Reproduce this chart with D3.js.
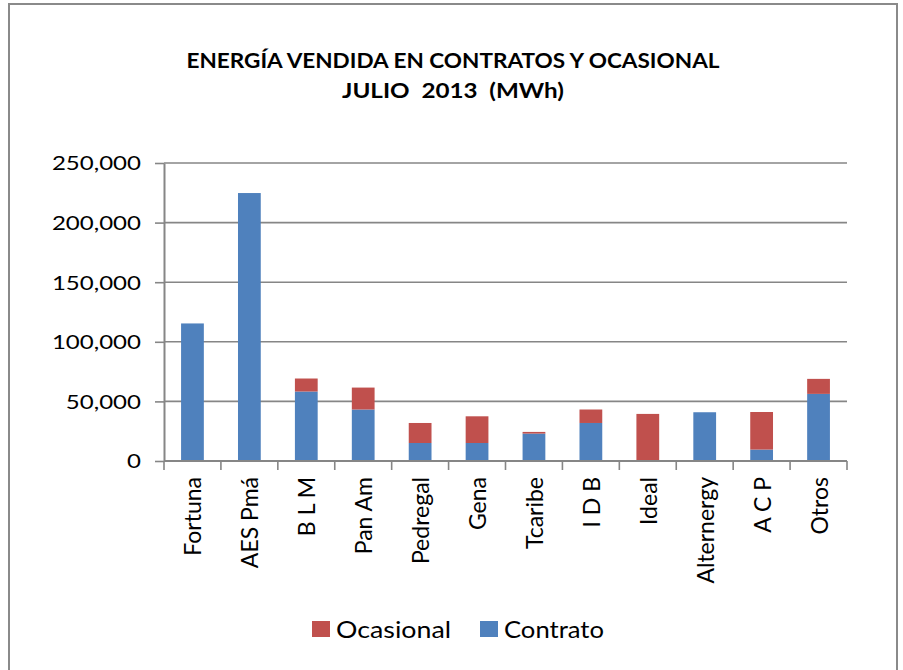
<!DOCTYPE html>
<html>
<head>
<meta charset="utf-8">
<script src="https://cdn.jsdelivr.net/npm/d3@7"></script>
<style>
  body { margin: 0; background: #fff; }
  text { font-family: Lato, "Open Sans", sans-serif; fill: #000; }
  text.title { white-space: pre; }
</style>
</head>
<body>
<div id="chart"></div>
<script>
const categories = ['Fortuna', 'AES Pmá', 'B L M', 'Pan Am', 'Pedregal', 'Gena', 'Tcaribe', 'I D B', 'Ideal', 'Alternergy', 'A C P', 'Otros'];
const contrato = [115400, 224800, 58300, 43200, 15100, 15100, 23000, 31900, 0, 40900, 9600, 56300];
const ocasional = [0, 0, 10900, 18400, 16800, 22400, 1400, 11300, 39500, 0, 31500, 12600];
const yTicks = [0, 50000, 100000, 150000, 200000, 250000];
const seriesNames = ['Contrato', 'Ocasional'];
const legendOrder = ['Ocasional', 'Contrato'];
const titleLines = ['ENERGÍA VENDIDA EN CONTRATOS Y OCASIONAL', 'JULIO  2013  (MWh)'];

const width = 903;
const height = 670;
const colors = { Contrato: '#4F81BD', Ocasional: '#C0504D' };
const gray = '#868686';

const svg = d3.select('#chart').append('svg').attr('width', width).attr('height', height);
svg.append('rect').attr('width', width).attr('height', height).attr('fill', '#fff');
svg.append('rect').attr('x', 9).attr('y', 4).attr('width', 888).attr('height', 700)
  .attr('fill', 'none').attr('stroke', '#8a8a8a').attr('stroke-width', 2);

// title
svg.selectAll('text.title').data(titleLines).enter().append('text').attr('class', 'title')
  .attr('x', 453).attr('y', (d, i) => 68 + i * 30)
  .attr('text-anchor', 'middle').style('font-weight', 'bold').style('font-size', '21px')
  .attr('textLength', (d, i) => i === 0 ? 533 : 222).attr('lengthAdjust', 'spacingAndGlyphs')
  .text(d => d);

const xScale = d3.scaleBand().domain(categories).range([164, 847]).paddingInner(0.6).paddingOuter(0.3);
const yScale = d3.scaleLinear().domain([0, 250000]).range([461, 163]);

// gridlines
svg.append('g').selectAll('line').data(yTicks.slice(1)).enter().append('line')
  .attr('x1', 164).attr('x2', 847).attr('y1', d => yScale(d)).attr('y2', d => yScale(d))
  .attr('stroke', gray).attr('stroke-width', 1.6);

// stacked bars
const rows = categories.map((c, i) => ({ cat: c, Contrato: contrato[i], Ocasional: ocasional[i] }));
const stacked = d3.stack().keys(seriesNames)(rows);
svg.append('g').selectAll('g').data(stacked).enter().append('g')
  .attr('fill', d => colors[d.key])
  .selectAll('rect').data(d => d).enter().append('rect')
  .attr('x', d => xScale(d.data.cat))
  .attr('width', xScale.bandwidth())
  .attr('y', d => yScale(d[1]))
  .attr('height', d => yScale(d[0]) - yScale(d[1]));

// y axis
const yAxis = svg.append('g').attr('transform', 'translate(164,0)')
  .call(d3.axisLeft(yScale).tickValues(yTicks).tickSize(9).tickSizeOuter(0).tickFormat(d3.format(',')));
yAxis.select('.domain').attr('stroke', gray).attr('stroke-width', 2);
yAxis.selectAll('.tick line').attr('stroke', gray).attr('stroke-width', 1.6);
yAxis.selectAll('.tick text').attr('x', null).attr('dy', null)
  .attr('transform', 'translate(-23,0) scale(1.3,1)')
  .attr('dominant-baseline', 'central')
  .style('font-family', 'Lato, sans-serif').style('font-size', '18.5px').attr('fill', '#000');

// x axis
const xAxis = svg.append('g').attr('transform', 'translate(0,461)');
xAxis.append('line').attr('x1', 164).attr('x2', 847).attr('stroke', gray).attr('stroke-width', 2);
const bounds = categories.map(c => xScale(c) - xScale.step() * xScale.paddingInner() / 2);
bounds.push(847);
xAxis.selectAll('line.tk').data(bounds).enter().append('line').attr('class', 'tk')
  .attr('x1', d => d).attr('x2', d => d).attr('y1', 0).attr('y2', 9)
  .attr('stroke', gray).attr('stroke-width', 1.6);
xAxis.selectAll('text').data(categories).enter().append('text')
  .attr('transform', d => `translate(${xScale(d) + xScale.bandwidth() / 2},16) rotate(-90)`)
  .attr('text-anchor', 'end').attr('dominant-baseline', 'central')
  .style('font-size', '23px').text(d => d);

// legend
const legendX = { Ocasional: 312, Contrato: 480 };
const legendW = { Ocasional: 115, Contrato: 100 };
const legend = svg.append('g').selectAll('g').data(legendOrder).enter().append('g')
  .attr('transform', d => `translate(${legendX[d]},621)`);
legend.append('rect').attr('width', 18).attr('height', 16).attr('fill', d => colors[d]);
legend.append('text').attr('x', 24).attr('y', 8).attr('dominant-baseline', 'central')
  .style('font-size', '23.5px')
  .attr('textLength', d => legendW[d]).attr('lengthAdjust', 'spacingAndGlyphs')
  .text(d => d);
</script>
</body>
</html>
